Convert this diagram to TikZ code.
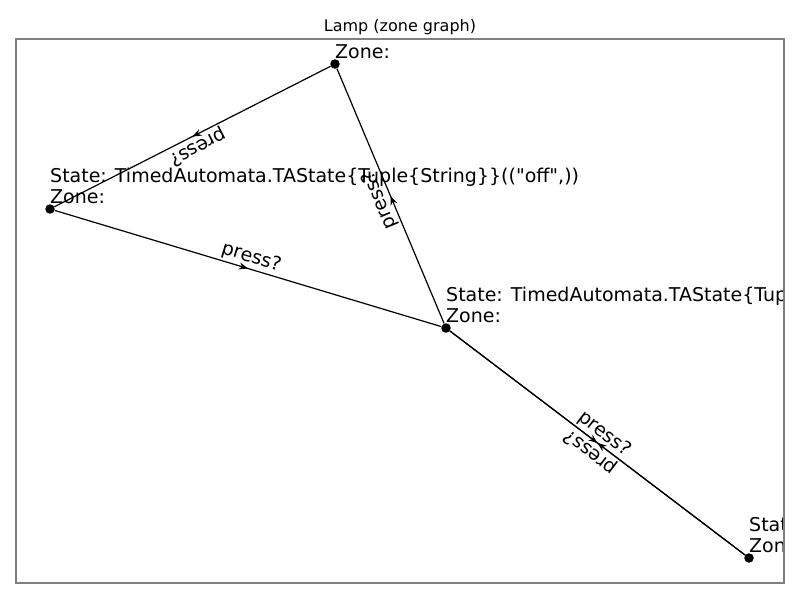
\documentclass[tikz,border=0pt]{standalone}
\usepackage{fontspec}
\setmainfont{DejaVu Sans}[Ligatures=TeXOff]
\usetikzlibrary{arrows.meta, decorations.markings}

\begin{document}
\begin{tikzpicture}[x=1pt, y=-1pt,
  state/.style={circle, fill=black, inner sep=0pt, minimum size=9.5pt},
  zone/.style={anchor=south west, inner sep=0pt, align=left, yshift=5pt, font=\fontsize{19}{21}\selectfont},
  trans/.style={line width=1.2pt, postaction={decorate}, decoration={markings, mark=at position 0.5 with {\arrow{Stealth[length=9pt, width=7pt]}}}},
  lbl/.style={midway, sloped, above, allow upside down, inner sep=2pt, font=\fontsize{19}{21}\selectfont}]
\useasboundingbox (0,0) rectangle (800,600);
% title
\node[font=\fontsize{16}{18}\selectfont] (title) at (400,27) {Lamp (zone graph)};

\begin{scope}
\clip (16,39) rectangle (784,583);
% states
\node[state] (zTop) at (335,64) {};
\node[state] (zOff) at (50,209) {};
\node[state] (zMid) at (446,328) {};
\node[state] (zEnd) at (749,558) {};

% labels
\node[zone] (lTop) at (zTop.center) {Zone:};
\node[zone] (lOff) at (zOff.center) {State: TimedAutomata.TAState\{Tuple\{String\}\}(("off",))\\Zone:};
\node[zone] (lMid) at (zMid.center) {State: TimedAutomata.TAState\{Tuple\{String\}\}\\Zone:};
\node[zone] (lEnd) at (zEnd.center) {State: TimedAutomata.TAState\{Tuple\{String\}\}\\Zone:};

% transitions
\draw[trans] (zTop) -- (zOff) node[lbl] {press?};
\draw[trans] (zOff) -- (zMid) node[lbl] {press?};
\draw[trans] (zMid) -- (zTop) node[lbl] {press?};
\draw[trans] (zMid) -- (zEnd) node[lbl] {press?};
\draw[trans] (zEnd) -- (zMid) node[lbl] {press?};
\end{scope}

% frame
\draw[gray, line width=1.5pt] (16,39) rectangle (784,583);
\end{tikzpicture}
\end{document}
